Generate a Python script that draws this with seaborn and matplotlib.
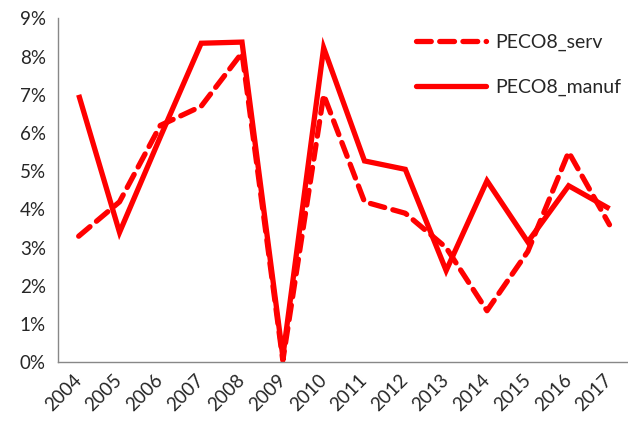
import matplotlib
matplotlib.use("Agg")
import matplotlib.pyplot as plt
import seaborn as sns
import pandas as pd
from matplotlib.ticker import FixedLocator, FuncFormatter
from matplotlib.lines import Line2D

years = ["2004", "2005", "2006", "2007", "2008", "2009", "2010",
         "2011", "2012", "2013", "2014", "2015", "2016", "2017"]
peco8_serv = [3.3, 4.2, 6.2, 6.7, 8.1, 0.05, 7.0, 4.2, 3.9, 3.0, 1.35, 2.9, 5.5, 3.6]
peco8_manuf = [7.0, 3.4, 5.9, 8.35, 8.38, 0.15, 8.23, 5.27, 5.05, 2.4, 4.75, 3.15, 4.62, 4.02]
series_names = ["PECO8_serv", "PECO8_manuf"]

df = pd.DataFrame({
    "year": years * 2,
    "value": peco8_serv + peco8_manuf,
    "series": [series_names[0]] * len(years) + [series_names[1]] * len(years),
})
df["pos"] = df["year"].map({y: i for i, y in enumerate(years)})

sns.set_style("white")
plt.rcParams["font.family"] = ["Lato", "DejaVu Sans"]

fig = plt.figure(figsize=(6.28, 4.23), dpi=100)
ax = fig.add_axes([0.0928, 0.1435, 0.9102, 0.813])

red = "#ff0000"
dash_pat = (2.8, 1.6)
sns.lineplot(data=df, x="pos", y="value", hue="series", style="series",
             palette={n: red for n in series_names},
             dashes={series_names[0]: dash_pat, series_names[1]: ""},
             linewidth=3.8, ax=ax, legend=False, sort=False)
for line in ax.get_lines():
    line.set_dash_capstyle("round")
    line.set_solid_capstyle("butt")
    line.set_solid_joinstyle("miter")

ax.set_xlim(-0.5, len(years) - 0.5)
ax.set_ylim(0, 9)
ax.set_xlabel("")
ax.set_ylabel("")

ax.xaxis.set_major_locator(FixedLocator(range(len(years))))
ax.set_xticklabels(years, rotation=45, ha="right", va="center",
                   rotation_mode="anchor", fontsize=13.5)
ax.xaxis.set_minor_locator(FixedLocator([i - 0.5 for i in range(len(years) + 1)]))
ax.tick_params(axis="x", which="major", length=0, pad=11)
ax.tick_params(axis="x", which="minor", length=5, color="#888888", width=1)

ax.yaxis.set_major_locator(FixedLocator(range(0, 10)))
ax.yaxis.set_major_formatter(FuncFormatter(lambda v, p: f"{int(v)}%"))
ax.tick_params(axis="y", length=5, color="#888888", width=1, labelsize=13.5, pad=4)

for s in ["top", "right"]:
    ax.spines[s].set_visible(False)
for s in ["left", "bottom"]:
    ax.spines[s].set_color("#888888")
    ax.spines[s].set_linewidth(1)

handles = [Line2D([], [], color=red, lw=3.8, dashes=dash_pat, dash_capstyle="round"),
           Line2D([], [], color=red, lw=3.8)]
ax.legend(handles, series_names, loc="upper right", bbox_to_anchor=(1.015, 1.005),
          frameon=False, fontsize=14, handlelength=3.6, handletextpad=0.45,
          labelspacing=1.4)

fig.savefig("out.png", dpi=100)
